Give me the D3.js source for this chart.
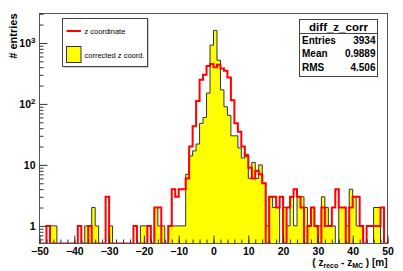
<!DOCTYPE html>
<html>
<head>
<meta charset="utf-8">
<script src="https://cdn.jsdelivr.net/npm/d3@7"></script>
<style>
  body { margin: 0; background: #fff; }
  svg { display: block; font-family: "Liberation Sans", Arial, sans-serif; }
</style>
</head>
<body>
<div id="chart"></div>
<script>
// bins of 1 m from -50 to 50 (low edges)
const binLow = d3.range(-50, 50);

// red outline histogram: "z coordinate"
const zCoord = [
  0, 0, 1, 0, 0, 0, 0, 0, 0, 0,
  0, 1, 0, 0, 1, 0, 0, 0, 0, 3,
  0, 0, 0, 0, 0, 0, 0, 1, 0, 0,
  0, 1, 0, 2, 2, 0, 0, 1, 4, 3,
  4, 4, 6, 20, 43, 112, 250, 300, 420, 450,
  400, 440, 380, 350, 270, 115, 48, 35, 20, 14,
  9, 6, 8, 7, 5, 0, 3, 3, 2, 3,
  0, 2, 3, 4, 3, 2, 0, 1, 2, 1,
  0, 2, 1, 1, 2, 4, 2, 2, 0, 2,
  3, 3, 1, 0, 1, 1, 1, 1, 2, 0
];

// yellow filled histogram: "corrected z coord."
const corrected = [
  0, 0, 0, 1, 1, 0, 0, 0, 0, 0,
  0, 0, 0, 1, 1, 2, 1, 0, 0, 0,
  1, 0, 0, 0, 0, 0, 0, 0, 0, 1,
  1, 0, 0, 2, 1, 1, 0, 1, 1, 1,
  1, 1, 7, 14, 17, 22, 48, 60, 150, 920,
  1600, 520, 170, 90, 65, 30, 30, 19, 13, 15,
  6, 11, 6, 10, 5, 1, 3, 2, 2, 0,
  2, 1, 3, 1, 3, 3, 2, 1, 2, 1,
  1, 3, 2, 1, 1, 0, 2, 2, 1, 4,
  3, 1, 1, 0, 0, 0, 2, 2, 0, 0
];

const xMajorTicks = [-50, -40, -30, -20, -10, 0, 10, 20, 30, 40, 50];
const xMinorTicks = d3.range(-50, 51, 2);
const yMajorTicks = [1, 10, 100, 1000];
const yMinorTicks = [0.6, 0.7, 0.8, 0.9, 2, 3, 4, 5, 6, 7, 8, 9,
  20, 30, 40, 50, 60, 70, 80, 90, 200, 300, 400, 500, 600, 700, 800, 900, 2000, 3000];
const legendLabels = ["z coordinate", "corrected z coord."];
const statsTitle = "diff_z_corr";
const statsRows = [["Entries", "3934"], ["Mean", "0.9889"], ["RMS", "4.506"]];

const width = 403, height = 271;
const frame = {left: 39.5, right: 387.5, top: 13.5, bottom: 243.5};

const svg = d3.select('#chart').append('svg')
  .attr('width', width).attr('height', height);

const x = d3.scaleLinear().domain([-50, 50]).range([frame.left, frame.right]);
const y = d3.scaleLog().domain([0.514, 3040]).range([frame.bottom, frame.top]);

svg.append('clipPath').attr('id', 'clip')
  .append('rect')
  .attr('x', frame.left).attr('y', frame.top)
  .attr('width', frame.right - frame.left).attr('height', frame.bottom - frame.top);

const stepPath = (vals) => {
  const base = y.range()[0];
  let p = `M${x(binLow[0])},${base}`;
  vals.forEach((v, i) => {
    const yy = v > 0 ? y(v) : base;
    p += `V${yy}H${x(binLow[i] + 1)}`;
  });
  return p + `V${base}`;
};

const plot = svg.append('g').attr('clip-path', 'url(#clip)');

plot.append('path')
  .attr('d', stepPath(corrected) + 'Z')
  .attr('fill', '#ffff00')
  .attr('stroke', '#333')
  .attr('stroke-width', 1);

plot.append('path')
  .attr('d', stepPath(zCoord))
  .attr('fill', 'none')
  .attr('stroke', '#ff0000')
  .attr('stroke-width', 2);

// frame
svg.append('rect')
  .attr('x', frame.left).attr('y', frame.top)
  .attr('width', frame.right - frame.left).attr('height', frame.bottom - frame.top)
  .attr('fill', 'none').attr('stroke', '#555').attr('stroke-width', 1);

// x axis
svg.append('g')
  .attr('transform', `translate(0,${frame.bottom})`)
  .call(d3.axisBottom(x).tickValues(xMajorTicks).tickSizeInner(-8).tickSizeOuter(0).tickPadding(4));
svg.append('g')
  .attr('transform', `translate(0,${frame.bottom})`)
  .call(d3.axisBottom(x).tickValues(xMinorTicks).tickSizeInner(-4).tickSizeOuter(0).tickFormat(''));

// y axis
const yAxis = svg.append('g')
  .attr('transform', `translate(${frame.left},0)`)
  .call(d3.axisLeft(y).tickValues(yMajorTicks).tickSizeInner(-8).tickSizeOuter(0).tickPadding(4)
    .tickFormat(d => String(d)));
svg.append('g')
  .attr('transform', `translate(${frame.left},0)`)
  .call(d3.axisLeft(y).tickValues(yMinorTicks).tickSizeInner(-4).tickSizeOuter(0).tickFormat(''));

svg.selectAll('.domain').remove();
svg.selectAll('.tick line').attr('stroke', '#333');
svg.selectAll('.tick text')
  .attr('font-family', '"Liberation Sans", Arial, sans-serif')
  .attr('font-size', 10.5).attr('font-weight', 'bold').attr('fill', '#000');

yAxis.selectAll('.tick text').each(function (d) {
  if (d >= 100) {
    const t = d3.select(this).text('');
    t.append('tspan').text('10');
    t.append('tspan').attr('font-size', 8).attr('dy', '-0.5em').text(String(Math.round(Math.log10(d))));
  }
});

// axis titles
const xt = svg.append('text')
  .attr('x', frame.right).attr('y', 265.5)
  .attr('text-anchor', 'end')
  .attr('font-size', 10).attr('font-weight', 'bold');
xt.append('tspan').text('( z');
xt.append('tspan').attr('font-size', 7).attr('dy', 2.5).text('reco');
xt.append('tspan').attr('dy', -2.5).text(' - z');
xt.append('tspan').attr('font-size', 7).attr('dy', 2.5).text('MC');
xt.append('tspan').attr('dy', -2.5).text(' ) [m]');

svg.append('text')
  .attr('transform', 'rotate(-90)')
  .attr('x', -frame.top).attr('y', 17)
  .attr('text-anchor', 'end')
  .attr('font-size', 11).attr('font-weight', 'bold')
  .text('# entries');

// legend
const lg = svg.append('g');
lg.append('rect')
  .attr('x', 63.5).attr('y', 19.5).attr('width', 85).attr('height', 48)
  .attr('fill', '#999');
lg.append('rect')
  .attr('x', 62.5).attr('y', 18.5).attr('width', 85).attr('height', 48)
  .attr('fill', '#fff').attr('stroke', '#444');
lg.append('line')
  .attr('x1', 66.5).attr('x2', 81).attr('y1', 31).attr('y2', 31)
  .attr('stroke', '#ff0000').attr('stroke-width', 2);
lg.append('rect')
  .attr('x', 66.5).attr('y', 46.5).attr('width', 14.5).attr('height', 16)
  .attr('fill', '#ffff00').attr('stroke', '#333');
lg.selectAll('text.leg').data(legendLabels).join('text')
  .attr('class', 'leg')
  .attr('x', 84.5).attr('y', (d, i) => i === 0 ? 33.5 : 57.5)
  .attr('font-size', 7.5)
  .text(d => d);

// stats box
const st = svg.append('g').attr('font-weight', 'bold');
st.append('rect')
  .attr('x', 299.5).attr('y', 19.5).attr('width', 78).attr('height', 57)
  .attr('fill', '#fff').attr('stroke', '#444');
st.append('line')
  .attr('x1', 299.5).attr('x2', 377.5).attr('y1', 33.5).attr('y2', 33.5)
  .attr('stroke', '#444');
st.append('text')
  .attr('x', 338.5).attr('y', 31).attr('text-anchor', 'middle')
  .attr('font-size', 11.5).text(statsTitle);
statsRows.forEach((r, i) => {
  st.append('text').attr('x', 302).attr('y', 44 + i * 13.4)
    .attr('font-size', 10).text(r[0]);
  st.append('text').attr('x', 375.5).attr('y', 44 + i * 13.4)
    .attr('text-anchor', 'end').attr('font-size', 10).text(r[1]);
});
</script>
</body>
</html>
